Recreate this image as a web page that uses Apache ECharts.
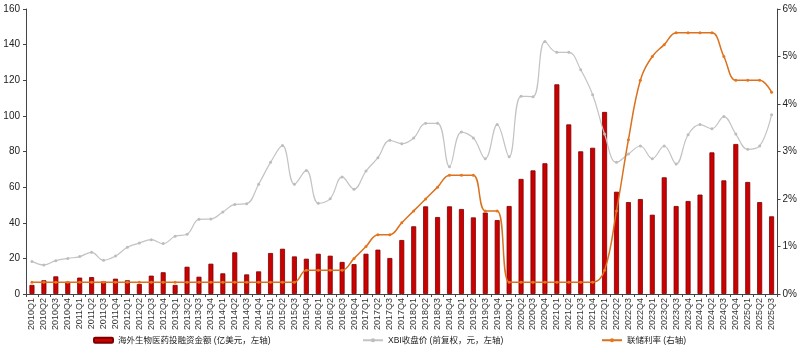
<!DOCTYPE html>
<html>
<head>
<meta charset="utf-8">
<script src="https://cdn.jsdelivr.net/npm/echarts@6/dist/echarts.min.js"></script>
<style>html,body{margin:0;padding:0;background:#fff}#c{width:800px;height:350px}</style>
</head>
<body>
<div id="c"></div>
<script>
const categories = (function(){const a=[];for(let y=2010;y<=2025;y++){for(let q=1;q<=4;q++){if(y===2025&&q>3)break;a.push(y+'Q'+q);}}return a;})();

const funding = [
  5.1, 7.7, 9.9, 6.9, 9.2, 9.5, 7.1, 8.6, 7.7, 5.6, 10.3, 12.2,
  5.1, 15.3, 9.7, 17.0, 11.6, 23.4, 11.0, 12.7, 23.0, 25.4, 21.1, 19.8,
  22.6, 21.5, 18.0, 16.8, 22.6, 24.9, 20.2, 30.3, 38.0, 49.2, 43.2, 49.2,
  47.7, 43.0, 45.7, 41.5, 49.4, 64.6, 69.4, 73.4, 117.7, 95.2, 80.1, 82.1,
  102.2, 57.4, 51.6, 53.3, 44.5, 65.5, 49.4, 52.2, 55.8, 79.5, 63.8, 84.2,
  62.9, 51.6, 43.6
];

const xbi = [
  18.3, 16.3, 18.7, 20.0, 21.0, 23.4, 18.9, 21.3, 26.2, 28.6, 30.5, 28.3,
  32.4, 33.5, 41.9, 42.1, 46.0, 50.3, 50.7, 61.6, 73.9, 83.3, 61.6, 69.4,
  50.9, 53.5, 65.7, 58.8, 69.0, 76.5, 86.3, 84.4, 87.6, 95.8, 95.8, 71.5,
  90.9, 87.6, 76.0, 95.1, 77.1, 111.0, 110.8, 141.8, 135.7, 135.7, 125.9, 111.9,
  89.8, 73.9, 78.6, 83.1, 76.0, 83.1, 73.0, 89.4, 95.1, 92.8, 99.6, 89.8,
  81.2, 83.1, 100.7
];

const fedRate = [
  0.25, 0.25, 0.25, 0.25, 0.25, 0.25, 0.25, 0.25, 0.25, 0.25, 0.25, 0.25,
  0.25, 0.25, 0.25, 0.25, 0.25, 0.25, 0.25, 0.25, 0.25, 0.25, 0.25, 0.5,
  0.5, 0.5, 0.5, 0.75, 1.0, 1.25, 1.25, 1.5, 1.75, 2.0, 2.25, 2.5,
  2.5, 2.5, 1.75, 1.75, 0.25, 0.25, 0.25, 0.25, 0.25, 0.25, 0.25, 0.25,
  0.5, 1.75, 3.25, 4.5, 5.0, 5.25, 5.5, 5.5, 5.5, 5.5, 5.0, 4.5,
  4.5, 4.5, 4.25
];

const seriesNames = ['海外生物医药投融资金额 (亿美元，左轴)', 'XBI收盘价 (前复权，元，左轴)', '联储利率 (右轴)'];
const leftTicks = {min: 0, max: 160, interval: 20};
const rightTicks = {min: 0, max: 6, interval: 1};

const FONT = '"Liberation Sans", "Noto Sans CJK SC", sans-serif';
const chart = echarts.init(document.getElementById('c'), null, {renderer: 'canvas'});
const legendText = {fontSize: 8.5, color: '#222', fontFamily: FONT};
chart.setOption({
  animation: false,
  backgroundColor: '#fff',
  textStyle: {fontFamily: FONT},
  grid: {left: 26, right: 22, top: 9, bottom: 56, containLabel: false},
  legend: [
    {data: [seriesNames[0]], left: 93, top: 336, itemWidth: 19, itemHeight: 5, textStyle: legendText, padding: 0},
    {data: [seriesNames[1]], left: 362, top: 336, itemWidth: 20, itemHeight: 5, textStyle: legendText, padding: 0},
    {data: [seriesNames[2]], left: 601, top: 336, itemWidth: 20, itemHeight: 5, textStyle: legendText, padding: 0}
  ],
  xAxis: {
    type: 'category',
    data: categories,
    boundaryGap: true,
    axisLine: {lineStyle: {color: '#444', width: 1}},
    axisTick: {show: true, length: 3, lineStyle: {color: '#444'}},
    axisLabel: {rotate: 90, interval: 0, fontSize: 9, color: '#333', margin: 4, fontFamily: FONT}
  },
  yAxis: [
    {
      type: 'value', min: leftTicks.min, max: leftTicks.max, interval: leftTicks.interval,
      axisLine: {show: true, lineStyle: {color: '#444'}},
      axisTick: {show: true, length: 3, lineStyle: {color: '#444'}},
      splitLine: {show: false},
      axisLabel: {fontSize: 10, color: '#222', margin: 6, fontFamily: FONT}
    },
    {
      type: 'value', min: rightTicks.min, max: rightTicks.max, interval: rightTicks.interval,
      position: 'right',
      axisLine: {show: true, lineStyle: {color: '#444'}},
      axisTick: {show: true, length: 3, lineStyle: {color: '#444'}},
      splitLine: {show: false},
      axisLabel: {fontSize: 10, color: '#222', margin: 5, formatter: '{value}%', fontFamily: FONT}
    }
  ],
  series: [
    {
      name: seriesNames[0], type: 'bar', data: funding, yAxisIndex: 0,
      barWidth: 5,
      itemStyle: {color: '#cc0000', borderColor: '#7a0000', borderWidth: 0.8}
    },
    {
      name: seriesNames[1], type: 'line', data: xbi, yAxisIndex: 0,
      smooth: 0.4, symbol: 'circle', symbolSize: 3, showSymbol: true,
      lineStyle: {color: '#c3c3c3', width: 1.2},
      itemStyle: {color: '#bdbdbd'}
    },
    {
      name: seriesNames[2], type: 'line', data: fedRate, yAxisIndex: 1,
      smooth: 0.4, symbol: 'circle', symbolSize: 3, showSymbol: true,
      lineStyle: {color: '#d9711e', width: 1.5},
      itemStyle: {color: '#e8751a'}
    }
  ]
});
</script>
</body>
</html>
